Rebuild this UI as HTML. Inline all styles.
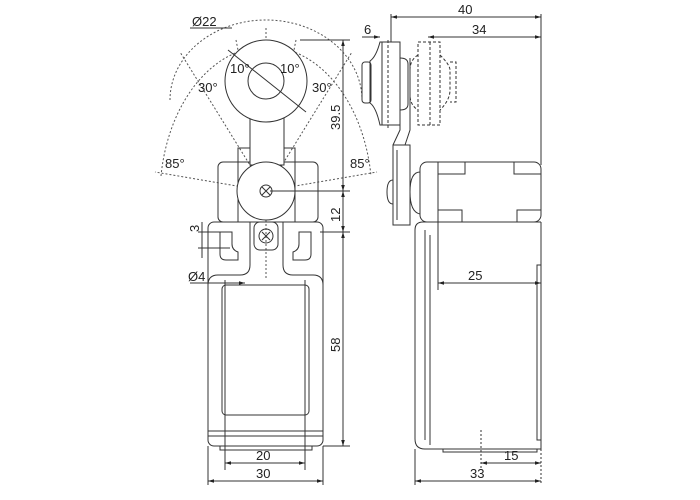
<!DOCTYPE html>
<html><head><style>body{margin:0;background:#fff}svg{display:block}text{font-family:"Liberation Sans",sans-serif;font-size:13px;fill:#222}</style></head><body>
<svg width="700" height="500" viewBox="0 0 700 500" xmlns="http://www.w3.org/2000/svg">
<defs><marker id="a" viewBox="0 0 10 10" refX="10" refY="5" markerWidth="6" markerHeight="6" orient="auto-start-reverse"><path d="M0,2L10,5L0,8z" fill="#222"/></marker></defs>
<g fill="none" stroke="#333" stroke-width="1">
<!-- dotted arcs -->
<g stroke-dasharray="2,2" stroke="#555">
<path d="M161,176 A106,150 0 0 1 371,176"/>
<path d="M170,100 A96,80 0 0 1 362,100"/>
<line x1="266" y1="191" x2="155" y2="172"/><line x1="266" y1="191" x2="377" y2="172"/>
<line x1="266" y1="191" x2="180" y2="52"/><line x1="266" y1="191" x2="352" y2="52"/>
<line x1="266" y1="191" x2="236" y2="40"/><line x1="266" y1="191" x2="296" y2="40"/>
<line x1="266" y1="28" x2="266" y2="280"/>
<line x1="225" y1="81" x2="308" y2="81"/>
</g>
<!-- front head -->
<rect x="218" y="162" width="100" height="60" rx="5"/>
<path d="M238,222V148h57v74"/>
<rect x="250" y="105" width="34" height="60" fill="#fff"/>
<circle cx="266" cy="81" r="41" fill="#fff"/>
<circle cx="266" cy="81" r="18"/>
<circle cx="266" cy="191" r="29" fill="#fff"/>
<circle cx="266" cy="191" r="6"/>
<path d="M262,187l8,8M270,187l-8,8"/>
<line x1="228" y1="50" x2="306" y2="112"/>
<!-- front body -->
<rect x="208" y="222" width="115" height="224" rx="6"/>
<rect x="220" y="446" width="92" height="4"/>
<rect x="222" y="285" width="87" height="130" rx="4"/>
<path d="M208,285q0-10 10-10h22q10 0 10-10V222M323,285q0-10-10-10h-20q-10 0-10-10V222"/>
<rect x="254" y="222" width="24" height="28" rx="6"/>
<circle cx="266" cy="236" r="7"/>
<path d="M262,232l8,8M270,232l-8,8"/>
<path d="M220,232h12v12q0,6 6,8v8h-12q-6 0-6-6z"/>
<path d="M311,232h-12v12q0,6-6,8v8h12q6 0 6-6z"/>
<line x1="208" y1="431" x2="323" y2="431"/><line x1="208" y1="436" x2="323" y2="436"/>
<line x1="225" y1="280" x2="225" y2="470"/><line x1="305" y1="280" x2="305" y2="470"/>
<!-- side view -->
<path d="M391,14V42M541,14V165"/>
<path d="M380,42h20v83h-20q-4-18-10-22v-42q6-4 10-19z"/>
<rect x="362" y="62" width="9" height="41" rx="3"/>
<line x1="382" y1="42" x2="382" y2="125"/>
<path d="M400,58q8 0 8,6v40q0 6-8,6"/>
<path d="M400,125v5l-7,15M410,58v72l-5,15"/>
<g stroke-dasharray="3,2"><rect x="418" y="42" width="22" height="83"/><path d="M418,55q-8 5-8,15v25q0 10 8,15M440,55q10 10 10,15v20q0 10-10,20M450,62h6v40h-6"/><line x1="388" y1="40" x2="388" y2="130"/><line x1="430" y1="42" x2="430" y2="125"/></g>
<rect x="393" y="145" width="17" height="80"/>
<line x1="397" y1="150" x2="397" y2="220"/>
<rect x="420" y="162" width="121" height="60" rx="7"/>
<line x1="438" y1="162" x2="438" y2="222"/>
<path d="M438,174h27v-12M541,174h-27v-12M438,210h24v12M541,210h-24v12"/>
<path d="M420,172q-10 0-10,20t10,22"/>
<path d="M393,180q-6 0-6,12t6,12"/>
<path d="M541,222V449H425q-10 0-10-10V230q0-8 8-8h118"/>
<line x1="425" y1="230" x2="425" y2="440"/><line x1="430" y1="235" x2="430" y2="445"/><line x1="438" y1="222" x2="438" y2="290"/>
<path d="M541,265h-4v175h4"/>
<rect x="443" y="449" width="94" height="3"/>
<line x1="481" y1="430" x2="481" y2="470" stroke-dasharray="2,2"/><line x1="541" y1="449" x2="541" y2="485" stroke-dasharray="2,2"/>
<line x1="415" y1="449" x2="415" y2="485"/><line x1="208" y1="446" x2="208" y2="485"/><line x1="323" y1="446" x2="323" y2="485"/>
<!-- dimension lines -->
<g marker-start="url(#a)" marker-end="url(#a)">
<line x1="343" y1="40" x2="343" y2="191"/><line x1="343" y1="191" x2="343" y2="232"/><line x1="343" y1="232" x2="343" y2="446"/>
<line x1="225" y1="463" x2="305" y2="463"/><line x1="208" y1="481" x2="323" y2="481"/>
<line x1="391" y1="17" x2="541" y2="17"/><line x1="428" y1="37" x2="541" y2="37"/>
<line x1="438" y1="283" x2="541" y2="283"/><line x1="481" y1="463" x2="541" y2="463"/><line x1="415" y1="481" x2="541" y2="481"/>
</g>
<path d="M300,40H350M270,191H350M320,232H350M323,446H350M198,232H230M198,248H230"/>
<line x1="202" y1="222" x2="202" y2="258"/>
<path d="M190,283h55" marker-end="url(#a)"/>
<path d="M362,37h18" marker-end="url(#a)"/>
<path d="M190,28h42"/>
</g>
<text x="192" y="26">Ø22</text>
<text x="230" y="73">10°</text><text x="280" y="73">10°</text>
<text x="198" y="92">30°</text><text x="312" y="92">30°</text>
<text x="165" y="168">85°</text><text x="350" y="168">85°</text>
<text x="188" y="281">Ø4</text>
<text x="256" y="460">20</text><text x="256" y="478">30</text>
<text x="458" y="14">40</text><text x="472" y="34">34</text><text x="364" y="34">6</text>
<text x="468" y="280">25</text><text x="504" y="460">15</text><text x="470" y="478">33</text>
<text transform="translate(340,130) rotate(-90)">39.5</text>
<text transform="translate(340,222) rotate(-90)">12</text>
<text transform="translate(340,352) rotate(-90)">58</text>
<text transform="translate(199,232) rotate(-90)">3</text>
</svg>
</body></html>
